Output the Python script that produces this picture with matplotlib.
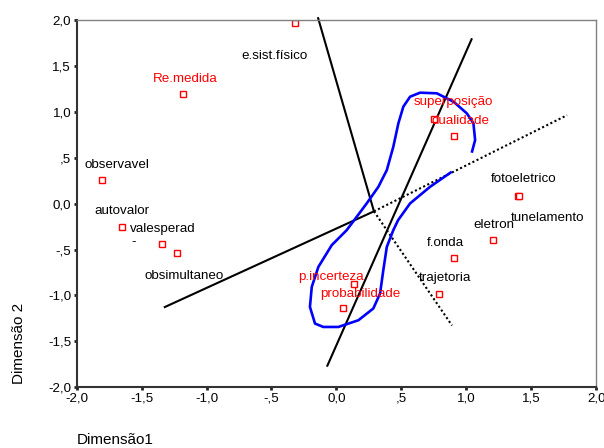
import matplotlib
matplotlib.use("Agg")
import matplotlib.pyplot as plt
from matplotlib.ticker import FixedLocator, FuncFormatter

plt.rcParams['font.family'] = ['Liberation Sans', 'DejaVu Sans']

# pontos (categorias) no plano das dimensoes 1 e 2
nomes = ["e.sist.físico", "Re.medida", "observavel", "autovalor", "valesperad",
         "obsimultaneo", "superposição", "dualidade", "fotoeletrico", "tunelamento",
         "eletron", "f.onda", "trajetoria", "p.incerteza", "probabilidade"]
dim1 = [-0.319, -1.184, -1.808, -1.652, -1.341,
        -1.226, 0.750, 0.906, 1.397, 1.407,
        1.209, 0.908, 0.793, 0.136, 0.053]
dim2 = [1.971, 1.190, 0.256, -0.259, -0.445,
        -0.543, 0.918, 0.736, 0.085, 0.078,
        -0.398, -0.597, -0.979, -0.870, -1.136]
vermelho = [False, True, False, False, False,
            False, True, True, False, False,
            False, False, False, True, True]

# deslocamento dos rotulos (pixels, x para direita, y para cima)
desloc = [(-21, -33), (3, 15), (15, 15), (0, 16), (0, 15),
          (7, -23), (20, 17), (6, 15), (6, 17), (28, -22),
          (0, 15), (-9, 15), (6, 16), (-23, 7), (17, 14)]

# retas desenhadas a mao
reta1_x = [-0.143, 0.289]
reta1_y = [2.03, -0.084]
reta2_x = [1.044, -0.073]
reta2_y = [1.80, -1.775]
reta3_x = [-1.329, 0.289]
reta3_y = [-1.131, -0.084]
pont1_x = [0.289, 1.776]
pont1_y = [-0.084, 0.963]
pont2_x = [0.289, 0.89]
pont2_y = [-0.084, -1.327]

# contorno azul
curva_x = [0.888, 0.721, 0.567, 0.475, 0.438, 0.388, 0.361, 0.336, 0.284, 0.169,
           0.015, -0.101, -0.165, -0.204, -0.190, -0.139, -0.036, 0.079, 0.156, 0.233,
           0.323, 0.388, 0.438, 0.477, 0.515, 0.567, 0.644, 0.773, 0.901, 1.004,
           1.055, 1.068, 1.042]
curva_y = [0.347, 0.183, 0.002, -0.180, -0.289, -0.471, -0.725, -0.979, -1.142, -1.270,
           -1.343, -1.343, -1.306, -1.125, -0.907, -0.689, -0.452, -0.289, -0.144, 0.002,
           0.183, 0.365, 0.619, 0.874, 1.055, 1.164, 1.208, 1.201, 1.110, 0.983,
           0.874, 0.692, 0.554]

ticks = [-2.0, -1.5, -1.0, -0.5, 0.0, 0.5, 1.0, 1.5, 2.0]

fig = plt.figure(figsize=(6.04, 4.48), dpi=100)
ax = fig.add_axes([0.127, 0.1355, 0.86, 0.82])

ax.plot(reta1_x, reta1_y, color="black", lw=1.5, solid_capstyle="butt", clip_on=False)
ax.plot(reta2_x, reta2_y, color="black", lw=1.5, solid_capstyle="butt")
ax.plot(reta3_x, reta3_y, color="black", lw=1.5, solid_capstyle="butt")
ax.plot(pont1_x, pont1_y, color="black", lw=1.5, linestyle=(0, (1, 1.2)))
ax.plot(pont2_x, pont2_y, color="black", lw=1.5, linestyle=(0, (1, 1.2)))
ax.plot(curva_x, curva_y, color="#0000ff", lw=1.9, solid_joinstyle="round",
        solid_capstyle="butt")

ax.plot(dim1, dim2, linestyle="none", marker="s", markersize=4.2,
        markerfacecolor="white", markeredgecolor="red", markeredgewidth=1.0)

for nome, x, y, v, (dx, dy) in zip(nomes, dim1, dim2, vermelho, desloc):
    ax.annotate(nome, (x, y), xytext=(dx * 0.72, dy * 0.72), textcoords="offset points",
                ha="center", va="center", fontsize=9.6,
                color="red" if v else "black")

# pequeno traco solto perto de autovalor
ax.annotate("-", (dim1[3], dim2[3]), xytext=(12 * 0.72, -15 * 0.72),
            textcoords="offset points", ha="center", va="center", fontsize=9.6)

ax.set_xlim(-2, 2)
ax.set_ylim(-2, 2)


def rotulo(v, pos):
    s = f"{v:.1f}".replace(".", ",")
    if s == "0,5":
        return ",5"
    if s == "-0,5":
        return "-,5"
    return s


ax.xaxis.set_major_locator(FixedLocator(ticks))
ax.yaxis.set_major_locator(FixedLocator(ticks))
ax.xaxis.set_major_formatter(FuncFormatter(rotulo))
ax.yaxis.set_major_formatter(FuncFormatter(rotulo))
ax.tick_params(direction="out", length=2, width=2, colors="#222222",
               labelsize=9.6, labelcolor="black", pad=2)

for lado in ["left", "bottom"]:
    ax.spines[lado].set_color("#333333")
    ax.spines[lado].set_linewidth(1.5)
for lado in ["top", "right"]:
    ax.spines[lado].set_color("#808080")
    ax.spines[lado].set_linewidth(1.0)

fig.text(77 / 604, 1 - 440 / 448, "Dimensão1", fontsize=11, ha="left", va="center")
fig.text(19 / 604, 1 - 343 / 448, "Dimensão 2", fontsize=11, ha="center", va="center",
         rotation=90)

fig.savefig("out.png", dpi=100)
